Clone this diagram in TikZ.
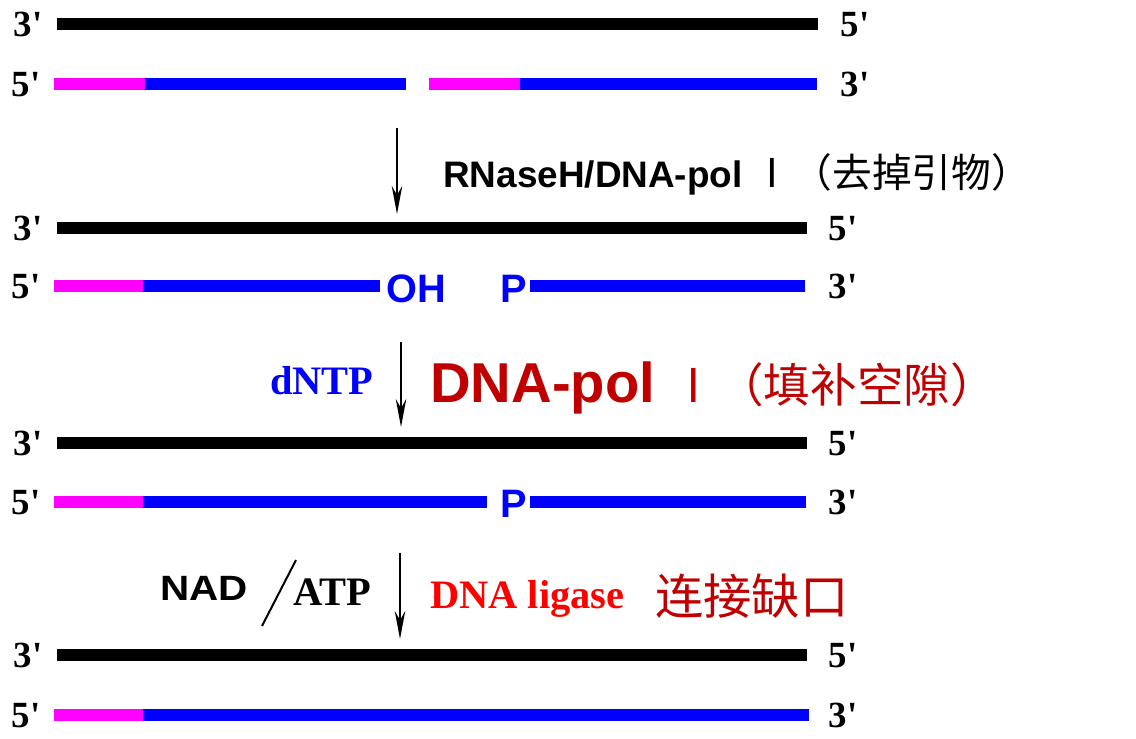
\documentclass[tikz,border=0pt]{standalone}
\usepackage{fontspec}
\setmainfont{Liberation Serif}
\newfontfamily\arialfont{Liberation Sans}
\newfontfamily\timesfont[Ligatures=TeXOff]{Liberation Serif}
\newfontfamily\cjkfont{Noto Sans CJK SC}
\usetikzlibrary{arrows.meta,positioning}
\definecolor{darkred}{HTML}{C00000}
\definecolor{primerpink}{RGB}{255,0,255}
\definecolor{dnablue}{RGB}{0,0,255}
\newcommand{\fsz}[1]{\fontsize{#1}{#1}\selectfont}

\begin{document}
\begin{tikzpicture}[x=0.02cm, y=-0.02cm, >={Stealth[length=0.56cm, width=0.21cm]},
  every node/.style={inner sep=0pt},
  template/.style={line width=0.24cm, black},
  primer/.style={line width=0.24cm, primerpink},
  newdna/.style={line width=0.24cm, dnablue},
  endlbl/.style={anchor=base, font=\timesfont\bfseries\fsz{21}},
  enzyme/.style={->, line width=0.04cm},
  grp/.style={anchor=base west, font=\arialfont\bfseries\fsz{22.6}, text=dnablue}]
  \useasboundingbox (0,0) rectangle (1136,738);

  \foreach \i/\yt/\yb/\xr in {1/24/84/855, 2/228/286/843, 3/443/502/843, 4/655/715/843} {
    \node[endlbl] (lt\i) at (28,\yt+12) {3'};
    \node[endlbl] (rt\i) at (\xr,\yt+12) {5'};
    \node[endlbl] (lb\i) at (26,\yb+12) {5'};
    \node[endlbl] (rb\i) at (\xr,\yb+12) {3'};
    \draw[template] (57,\yt) -- (\ifnum\i=1 818\else 807\fi,\yt);
  }

  \draw[primer] (54,84) -- (145,84);
  \draw[newdna] (145,84) -- (406,84);
  \draw[primer] (429,84) -- (520,84);
  \draw[newdna] (520,84) -- (817,84);

  \node[grp] (oh) at (386,302) {OH};
  \node[grp] (p2) at (500,302) {P};
  \draw[primer] (54,286) -- (143,286);
  \draw[newdna] (143,286) -- ([xshift=-0.12cm]oh.west |- 0,286);
  \draw[newdna] ([xshift=0.06cm]p2.east |- 0,286) -- (805,286);

  \node[grp] (p3) at (500,517) {P};
  \draw[primer] (54,502) -- (143,502);
  \draw[newdna] (143,502) -- ([xshift=-0.26cm]p3.west |- 0,502);
  \draw[newdna] ([xshift=0.06cm]p3.east |- 0,502) -- (806,502);

  \draw[primer] (54,715) -- (143,715);
  \draw[newdna] (143,715) -- (809,715);

  \coordinate (a1s) at (397,128);
  \coordinate (a1e) at (397,214);
  \coordinate (a2s) at (401,342);
  \coordinate (a2e) at (401,427);
  \coordinate (a3s) at (400,553);
  \coordinate (a3e) at (400,639);
  \draw[enzyme] (a1s) -- (a1e);
  \draw[enzyme] (a2s) -- (a2e);
  \draw[enzyme] (a3s) -- (a3e);

  \node[anchor=base west, font=\arialfont\bfseries\fsz{21}] (rnase) at (443,187)
    {RNaseH/DNA-pol {\cjkfont\mdseries\fsz{22.6}Ⅰ（去掉引物）}};
  \node[anchor=base west, font=\timesfont\bfseries\fsz{23}, text=dnablue] (dntp) at (270,394) {dNTP};
  \node[anchor=base west, font=\arialfont\bfseries\fsz{32}, text=darkred] (pol) at (430,402)
    {DNA-pol {\cjkfont\mdseries\fsz{26.5}Ⅰ（填补空隙）}};
  \node[anchor=base west, font=\arialfont\bfseries\fsz{20}] (nad) at (160,600) {\scalebox{1.15}[1]{NAD}};
  \coordinate (sl1) at (262,626);
  \coordinate (sl2) at (296,560);
  \draw[line width=0.04cm] (sl1) -- (sl2);
  \node[anchor=base west, font=\timesfont\bfseries\fsz{23}] (atp) at (293,605) {ATP};
  \node[anchor=base west, font=\timesfont\bfseries\fsz{23}, text=red] (lig) at (430,608) {DNA ligase};
  \node[anchor=base west, font=\cjkfont\fsz{27.5}, text=darkred] (seal) at (655,614) {连接缺口};
\end{tikzpicture}
\end{document}
